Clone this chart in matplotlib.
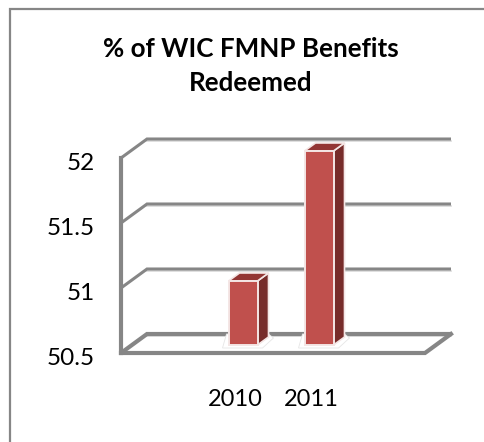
import matplotlib
matplotlib.use('Agg')
import matplotlib.pyplot as plt
from matplotlib.patches import Polygon, Rectangle

plt.rcParams['font.family'] = ['Lato', 'DejaVu Sans']

# values
categories = ['2010', '2011']
values = [51, 52]
y_ticks = [50.5, 51, 51.5, 52]
y_labels = ['50.5', '51', '51.5', '52']
title = '% of WIC FMNP Benefits\nRedeemed'

W, H = 484, 442
fig = plt.figure(figsize=(W / 100, H / 100), dpi=100)
fig.patch.set_facecolor('white')

# border of the chart area, cut off at the right and bottom of the image
fig.add_artist(plt.Line2D([9.5 / W, 9.5 / W, 1],
                          [0, 1 - 8.5 / H, 1 - 8.5 / H],
                          color='#868686', lw=1.6, solid_joinstyle='miter'))

# axes is the front plane of the fake 3D box
left, right, front_bot, front_top = 121, 425, 353, 158
ax = fig.add_axes([left / W, 1 - front_bot / H, (right - left) / W, (front_bot - front_top) / H])
ax.set_xlim(-1.5, 2.5)
ax.set_ylim(50.5, 52)
ax.axis('off')

px_x = 4 / (right - left)
px_y = 1.5 / (front_bot - front_top)
depth_x = 26 * px_x
depth_y = 19 * px_y
grey = '#868686'
x0, x1 = ax.get_xlim()

# floor edges and gridlines
for t in y_ticks:
    lw = 3.0 if t == y_ticks[0] else 2.2
    ax.plot([x0, x0 + depth_x, x1 + depth_x],
            [t, t + depth_y, t + depth_y],
            color=grey, lw=lw, solid_capstyle='butt', solid_joinstyle='miter', clip_on=False, zorder=2)
    ax.plot([x0 + depth_x, x1 + depth_x],
            [t + depth_y - 2 * px_y, t + depth_y - 2 * px_y],
            color='#d9d9d9', lw=1.2, clip_on=False, zorder=1)
ax.plot([x0, x0], [y_ticks[0], y_ticks[-1]], color=grey, lw=3.0, clip_on=False, zorder=2)
ax.plot([x0, x1, x1 + depth_x], [50.5, 50.5, 50.5 + depth_y],
        color=grey, lw=3.0, solid_joinstyle='miter', clip_on=False, zorder=2)

# bars: front, side and top faces
bar_w = 29 * px_x
shift_x = 8 * px_x
shift_y = 8 * px_y
dx = 11 * px_x
dy = 8 * px_y
for i, v in enumerate(values):
    xl = i - bar_w / 2 + shift_x
    xr = xl + bar_w
    yb = 50.5 + shift_y
    yt = v + shift_y - 1 * px_y
    # white plinth under the bar
    ax.add_patch(Polygon([(xl - 6 * px_x, yb - 3 * px_y), (xr + 5 * px_x, yb - 3 * px_y),
                          (xr + dx + 5 * px_x, yb + dy - 1 * px_y), (xr + dx, yb + dy + 3 * px_y),
                          (xl - 2 * px_x, yb + dy + 3 * px_y)],
                         fc='white', ec='#e6e6e6', lw=0.6, zorder=3, clip_on=False))
    ax.add_patch(Rectangle((xl, yb), bar_w, yt - yb, fc='#C0504D', ec='#f4e6e5', lw=1.4, zorder=5, clip_on=False))
    ax.add_patch(Polygon([(xr, yb), (xr + dx, yb + dy), (xr + dx, yt + dy), (xr, yt)],
                         fc='#772C2A', ec='#f4e6e5', lw=1.2, zorder=4, clip_on=False))
    ax.add_patch(Polygon([(xl, yt), (xr, yt), (xr + dx, yt + dy), (xl + dx, yt + dy)],
                         fc='#933634', ec='#f4e6e5', lw=1.2, zorder=4, clip_on=False))

# tick labels
for t, s in zip(y_ticks, y_labels):
    ax.text(x0 - 26 * px_x, t - 5 * px_y, s, ha='right', va='center', fontsize=17.5, color='black', clip_on=False)
for i, c in enumerate(categories):
    ax.text(i, 50.5 - 46 * px_y, c, ha='center', va='center', fontsize=17, color='black', clip_on=False)

fig.text(251 / W, 1 - 66 / H, title, ha='center', va='center', fontsize=18.7, fontweight='bold',
         color='black', linespacing=1.5)

fig.savefig('out.png', dpi=100)
